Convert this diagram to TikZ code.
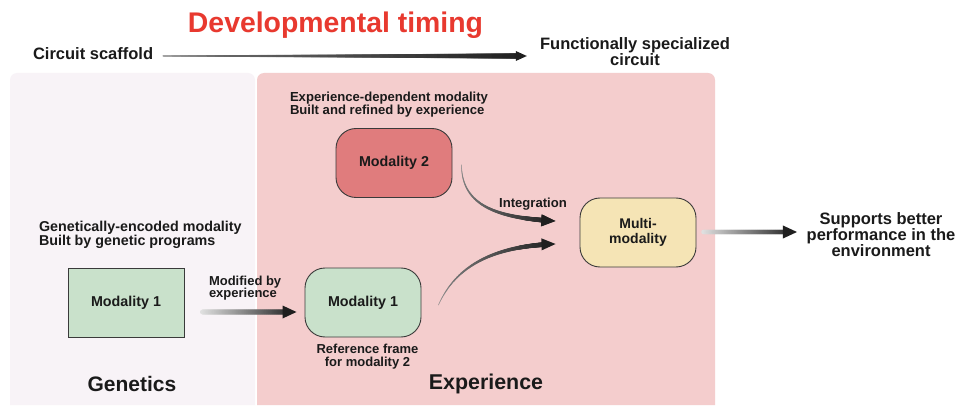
\documentclass[tikz,border=0pt]{standalone}
\usepackage{fontspec}
\setmainfont{Liberation Sans}
\usetikzlibrary{decorations.markings,calc}

\definecolor{panelL}{HTML}{F8F3F7}
\definecolor{panelR}{HTML}{F4CDCD}
\definecolor{greenbox}{HTML}{C9E1CB}
\definecolor{redbox}{HTML}{E07C7D}
\definecolor{yellowbox}{HTML}{F5E4B5}
\definecolor{titlered}{HTML}{E8392F}
\definecolor{ink}{HTML}{1A1A1A}
\definecolor{edge}{HTML}{3A3A3A}

\newcommand\fsz[2]{\fontsize{#1}{#2}\selectfont\bfseries}

\tikzset{
  lbl/.style={inner sep=0pt, outer sep=0pt, text=ink},
  modbox/.style={draw=edge, line width=0.9pt, minimum width=116pt, minimum height=69pt,
    inner sep=0pt, text=ink, font=\fsz{14.3}{16}},
  roundbox/.style={modbox, rounded corners=20pt},
  taper/.style n args={6}{decorate, decoration={markings,
    mark=between positions 0 and -8pt step 0.4pt with {%
      \pgfmathsetmacro\tf{\pgfkeysvalueof{/pgf/decoration/mark info/distance from start}/\pgfdecoratedpathlength}%
      \pgfmathsetmacro\tr{#1+(#2-#1)*\tf}%
      \pgfmathtruncatemacro\tc{#3+(#4-#3)*\tf}%
      \fill[black!\tc] (0,0) circle (\tr pt);},
    mark=at position 0.9995 with {\fill[black!#4] (-#5,-#6)--(0,0)--(-#5,#6)--cycle;}}},
  headonly/.style n args={3}{decorate, decoration={markings,
    mark=at position 0.9995 with {\fill[black!#1] (-#2,-#3)--(0,0)--(-#2,#3)--cycle;}}}
}

\begin{document}
\begin{tikzpicture}[x=1pt,y=-1pt]
\useasboundingbox (0,0) rectangle (969,406);
\fill[white] (0,0) rectangle (969,406);

% panels
\fill[panelL] (10,405) [rounded corners=7pt]-- (10,73) -- (255,73) [sharp corners]-- (255,405) -- cycle;
\fill[panelR] (257,405) [rounded corners=7pt]-- (257,73) -- (715,73) [sharp corners]-- (715,405) -- cycle;

% top labels
\node[lbl, anchor=base, text=titlered, font=\fsz{28.4}{30}] (title) at (335.5,33) {Developmental timing};
\node[lbl, anchor=base west, font=\fsz{16.5}{18}] (cs) at (33,60) {Circuit scaffold};
\node[lbl, anchor=north, align=center, font=\fsz{16.5}{14}] (fsc) at (635,37.5) {Functionally specialized\\circuit};

% boxes
\node[modbox, fill=greenbox] (g1) at (126,302.5) {Modality 1};
\node[roundbox, fill=greenbox] (e1) at (363,302.5) {Modality 1};
\node[roundbox, fill=redbox] (m2) at (394,163) {Modality 2};
\node[roundbox, fill=yellowbox, align=center, font=\fsz{14}{15.5}] (mm) at (638,232.5) {Multi-\\modality};

% texts
\node[lbl, anchor=north west, align=left, font=\fsz{13.1}{13.3}] (edm) at (290,92) {Experience-dependent modality\\Built and refined by experience};
\node[lbl, anchor=north west, align=left, font=\fsz{14.3}{14.5}] (gem) at (39,221) {Genetically-encoded modality\\Built by genetic programs};
\node[lbl, anchor=north west, align=left, font=\fsz{13}{12.5}] (mbe) at (209,276) {Modified by\\experience};
\node[lbl, anchor=north, align=center, font=\fsz{13}{13.5}] (rf) at (367.5,344) {Reference frame\\for modality 2};
\node[lbl, anchor=north, font=\fsz{13.1}{14}] (integ) at (533,198) {Integration};
\node[lbl, anchor=north, align=center, font=\fsz{16.5}{16}] (sup) at (881,213) {Supports better\\performance in the\\environment};
\node[lbl, anchor=base, font=\fsz{21}{24}] (gen) at (132,391) {Genetics};
\node[lbl, anchor=base, font=\fsz{21.4}{24}] (expn) at (486,389) {Experience};

% connector end points
\coordinate (sc0) at (163,56);
\coordinate (sc1) at (527,56);
\coordinate (md0) at ($(g1.east)+(18,9.5)$);
\coordinate (md1) at ($(e1.west)+(-8,9.5)$);
\coordinate (up0) at ($(m2.east)+(9,2)$);
\coordinate (up1) at ($(mm.west)+(-24,-11.5)$);
\coordinate (upa) at (462,205);
\coordinate (upb) at (495,218);
\coordinate (lo0) at ($(e1.east)+(17,2.5)$);
\coordinate (lo1) at ($(mm.west)+(-24,11.5)$);
\coordinate (loa) at (455,268);
\coordinate (lob) at (490,246);
\coordinate (ou0) at ($(mm.east)+(7,-0.5)$);
\coordinate (ou1) at (797,232);
\coordinate (uph) at ($(up1)+(-20,-0.8)$);
\coordinate (loh) at ($(lo1)+(-20,0.5)$);

% connectors
\path[taper={0.5}{2.6}{55}{88}{11}{5}] (sc0) -- (sc1);
\path[taper={2.4}{2.4}{12}{88}{14}{6.5}] (md0) -- (md1);
\path[taper={0.3}{2.6}{45}{88}{14}{6}] (up0) .. controls (upa) and (upb) .. (up1);
\path[headonly={88}{14}{6}] (uph) -- (up1);
\path[taper={0.3}{2.6}{45}{88}{14}{6}] (lo0) .. controls (loa) and (lob) .. (lo1);
\path[headonly={88}{14}{6}] (loh) -- (lo1);
\path[taper={2.2}{2.2}{12}{88}{14}{6.5}] (ou0) -- (ou1);
\end{tikzpicture}
\end{document}
